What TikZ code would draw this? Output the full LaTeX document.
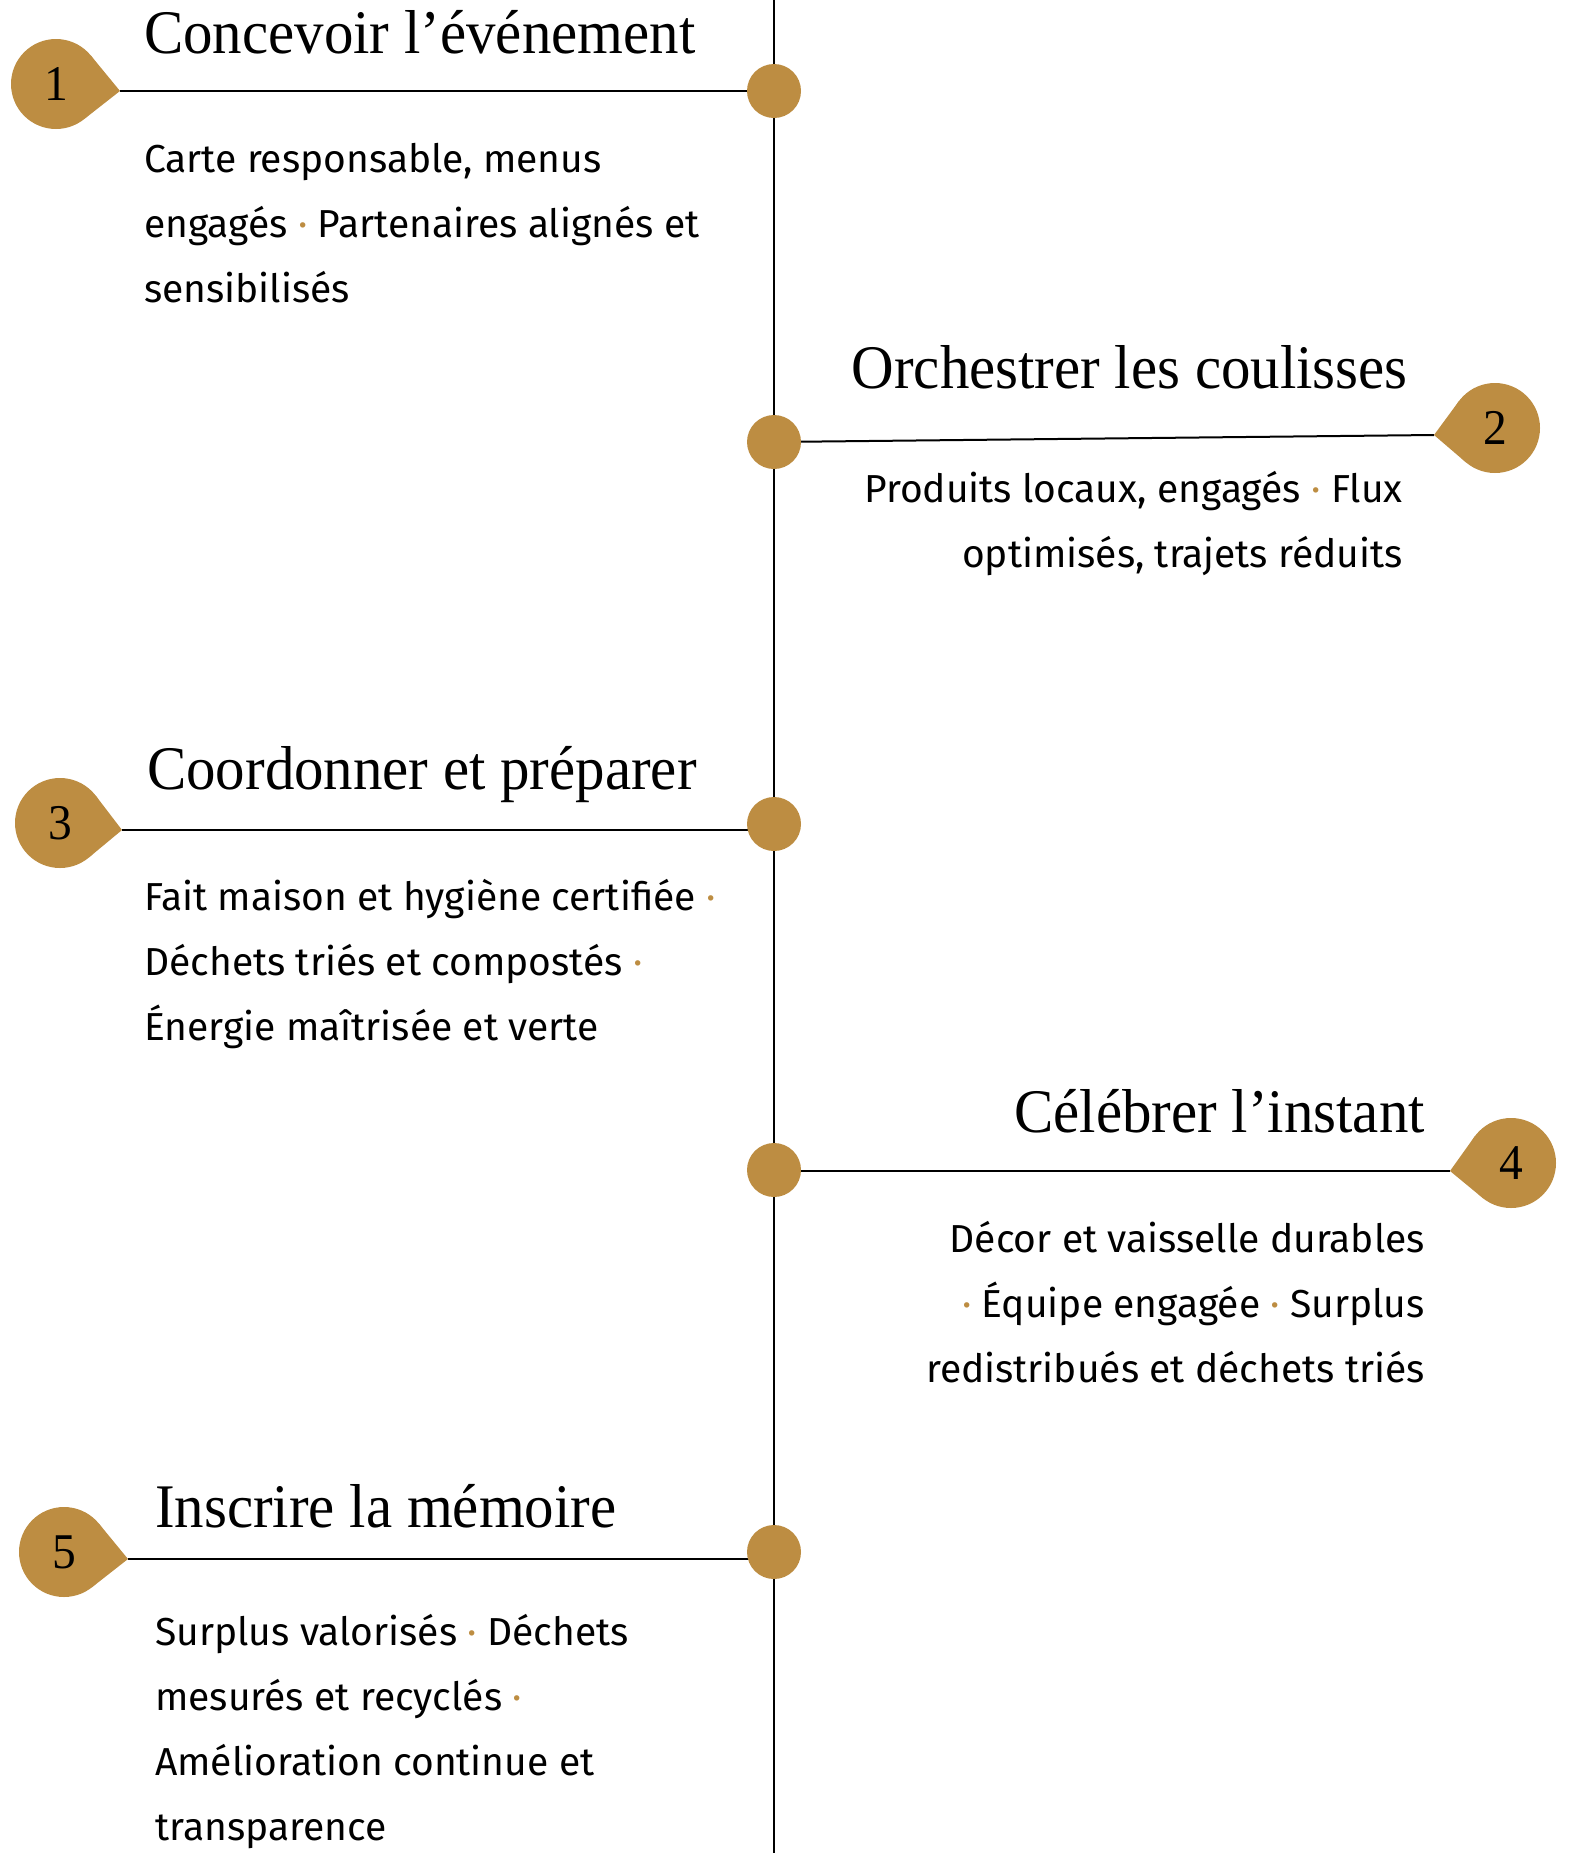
\documentclass[tikz,border=0pt]{standalone}
\usepackage{fontspec}
\setmainfont{Fira Sans}
\newfontfamily\titlefont[FakeStretch=0.95]{Liberation Serif}
\usepackage{tikz}
\usetikzlibrary{backgrounds}
\definecolor{gold}{RGB}{189,141,66}
\newcommand{\sep}{{\color{gold}·}}

\begin{document}
\begin{tikzpicture}[x=1pt,y=-1pt,
    dot/.style={circle,fill=gold,minimum size=54pt,inner sep=0pt,outer sep=0pt},
    badge/.style={circle,fill=gold,minimum size=90pt,inner sep=0pt,outer sep=0pt,
      font=\titlefont\fontsize{50}{50}\selectfont},
    title/.style={inner sep=0pt,font=\titlefont\fontsize{62}{62}\selectfont},
    body/.style={inner sep=0pt,font=\fontsize{39}{65}\selectfont},
    rule/.style={line width=2pt}]
    \useasboundingbox (0,0) rectangle (1572,1853);
    \coordinate (top) at (774,0);
    \coordinate (bottom) at (774,1853);

    \node[dot] (d1) at (774,91) {};
    \node[dot] (d2) at (774,442) {};
    \node[dot] (d3) at (774,824) {};
    \node[dot] (d4) at (774,1170) {};
    \node[dot] (d5) at (774,1552) {};

    \node[badge] (b1) at (56,84) {1};
    \coordinate (t1) at (120,91);
    \fill[gold] (b1.39) -- (t1) -- (b1.-51) -- cycle;
    \node[badge] (b2) at (1495,428) {2};
    \coordinate (t2) at (1434,435);
    \fill[gold] (b2.143) -- (t2) -- (b2.230) -- cycle;
    \node[badge] (b3) at (60,823) {3};
    \coordinate (t3) at (122,830);
    \fill[gold] (b3.38) -- (t3) -- (b3.-50) -- cycle;
    \node[badge] (b4) at (1511,1163) {4};
    \coordinate (t4) at (1450,1171);
    \fill[gold] (b4.143) -- (t4) -- (b4.232) -- cycle;
    \node[badge] (b5) at (64,1552) {5};
    \coordinate (t5) at (128,1559);
    \fill[gold] (b5.39) -- (t5) -- (b5.-52) -- cycle;

    \node[title,anchor=base west] (h1) at (144,53) {Concevoir l’événement};
    \node[title,anchor=base east] (h2) at (1408,388) {Orchestrer les coulisses};
    \node[title,anchor=base west] (h3) at (147,789) {Coordonner et préparer};
    \node[title,anchor=base east] (h4) at (1425,1132) {Célébrer l’instant};
    \node[title,anchor=base west] (h5) at (155,1527) {Inscrire la mémoire};

    \node[body,anchor=base west,align=left] (p1) at (144,302)
      {Carte responsable, menus\\engagés \sep{} Partenaires alignés et\\sensibilisés};
    \node[body,anchor=base east,align=right] (p2) at (1403,567)
      {Produits locaux, engagés \sep{} Flux\\optimisés, trajets réduits};
    \node[body,anchor=base west,align=left] (p3) at (144,1040)
      {Fait maison et hygiène certifiée \sep\\Déchets triés et compostés \sep\\Énergie maîtrisée et verte};
    \node[body,anchor=base east,align=right] (p4) at (1425,1382)
      {Décor et vaisselle durables\\\sep{} Équipe engagée \sep{} Surplus\\redistribués et déchets triés};
    \node[body,anchor=base west,align=left] (p5) at (155,1840)
      {Surplus valorisés \sep{} Déchets\\mesurés et recyclés \sep\\Amélioration continue et\\transparence};

    \begin{scope}[on background layer]
      \draw[rule] (top) -- (bottom);
      \draw[rule] (t1) -- (t1 -| d1);
      \draw[rule] (t2) -- (d2);
      \draw[rule] (t3) -- (t3 -| d3);
      \draw[rule] (t4) -- (t4 -| d4);
      \draw[rule] (t5) -- (t5 -| d5);
    \end{scope}
\end{tikzpicture}
\end{document}
